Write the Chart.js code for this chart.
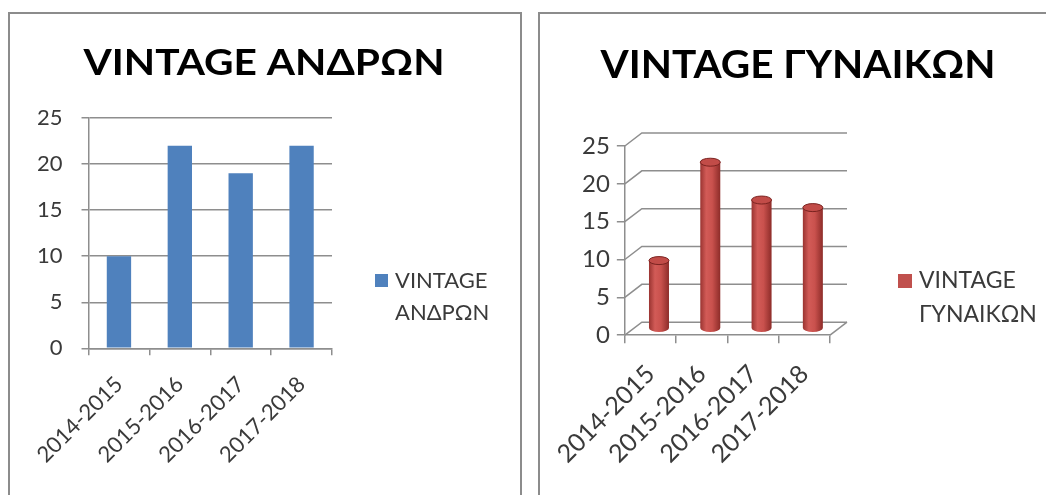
<!DOCTYPE html>
<html lang="el">
<head>
<meta charset="UTF-8">
<title>VINTAGE</title>
<script src="https://cdn.jsdelivr.net/npm/chart.js"></script>
<style>
  body { margin: 0; background: #fff; width: 1046px; height: 495px; overflow: hidden; position: relative; }
  .panel { position: absolute; top: 12px; height: 500px; border: 2px solid #8c8c8c; border-bottom: none; background: #fff; }
  #leftPanel { left: 8px; width: 510px; }
  #rightPanel { left: 538px; width: 520px; }
  .box { position: relative; height: 481px; }
</style>
</head>
<body>

<div class="panel" id="leftPanel"><div class="box" style="width:510px"><canvas id="men"></canvas></div></div>
<div class="panel" id="rightPanel"><div class="box" style="width:506px"><canvas id="women"></canvas></div></div>

<script>
  const seasons = ['2014-2015', '2015-2016', '2016-2017', '2017-2018'];
  const menValues = [10, 22, 19, 22];
  const womenValues = [9, 22, 17, 16];
  const yMax = 25;
  const yStep = 5;

  const gridGray = '#8e8e8e';
  const textGray = '#3a3a3a';
  const depth = { dx: 17, dy: 13 };

  // title centred on the whole panel (layout padding would shift the built-in one)
  const panelTitle = {
    id: 'panelTitle',
    afterDraw(chart, args, opts) {
      const ctx = chart.ctx;
      ctx.save();
      ctx.font = opts.font;
      ctx.fillStyle = '#000';
      ctx.textAlign = 'center';
      ctx.textBaseline = 'alphabetic';
      ctx.translate(chart.width / 2 + opts.shift, opts.baseline);
      ctx.scale(opts.stretch, 1);
      ctx.fillText(opts.text, 0, 0);
      ctx.restore();
    }
  };

  // legend on the right side, label split over two lines
  const sideLegend = {
    id: 'sideLegend',
    afterDraw(chart, args, opts) {
      const ctx = chart.ctx;
      const ds = chart.data.datasets[0];
      const x = chart.chartArea.right + opts.offsetX;
      const y = opts.y;
      ctx.save();
      ctx.fillStyle = opts.color;
      ctx.fillRect(x, y, opts.box, opts.box);
      ctx.font = opts.font;
      ctx.fillStyle = textGray;
      ctx.textBaseline = 'middle';
      ds.label.split(' ').forEach((t, i) => {
        ctx.fillText(t, x + opts.box + 7, y + opts.box / 2 + i * opts.lineGap);
      });
      ctx.restore();
    }
  };

  // 3d wall, floor and cylinders for the women chart
  const cylinders = {
    id: 'cylinders',
    beforeDatasetsDraw(chart) {
      const { ctx, chartArea: { left, right }, scales: { y } } = chart;
      const { dx, dy } = depth;
      ctx.save();
      ctx.strokeStyle = gridGray;
      ctx.lineWidth = 1.5;
      y.ticks.forEach(t => {
        const py = y.getPixelForValue(t.value);
        ctx.beginPath();
        ctx.moveTo(left, py);
        ctx.lineTo(left + dx, py - dy);
        ctx.lineTo(right + dx, py - dy);
        ctx.stroke();
      });
      const p0 = y.getPixelForValue(0);
      ctx.beginPath();
      ctx.moveTo(right + dx, p0 - dy);
      ctx.lineTo(right, p0);
      ctx.stroke();
      ctx.restore();
    },
    afterDatasetsDraw(chart) {
      const ctx = chart.ctx;
      const { dx, dy } = depth;
      ctx.save();
      chart.getDatasetMeta(0).data.forEach(bar => {
        const rx = bar.width / 2, ry = 4;
        const cx = bar.x + dx / 2, top = bar.y - dy / 2, bot = bar.base - dy / 2;
        const g = ctx.createLinearGradient(cx - rx, 0, cx + rx, 0);
        g.addColorStop(0, '#9a3431');
        g.addColorStop(0.3, '#d25b57');
        g.addColorStop(0.6, '#c9514d');
        g.addColorStop(1, '#8d2c29');
        ctx.fillStyle = g;
        ctx.beginPath();
        ctx.moveTo(cx - rx, top);
        ctx.lineTo(cx - rx, bot);
        ctx.ellipse(cx, bot, rx, ry, 0, Math.PI, 0, true);
        ctx.lineTo(cx + rx, top);
        ctx.closePath();
        ctx.fill();
        ctx.beginPath();
        ctx.ellipse(cx, top, rx, ry, 0, 0, Math.PI * 2);
        ctx.fillStyle = '#c24c48';
        ctx.fill();
        ctx.strokeStyle = '#7a2320';
        ctx.lineWidth = 1;
        ctx.stroke();
      });
      ctx.restore();
    }
  };

  function axisOptions(yFont, xFont, yPad, yTickLen, xPad, xTickLen) {
    return {
      x: {
        grid: { display: true, drawOnChartArea: false, tickLength: xTickLen, color: gridGray, lineWidth: 1.5 },
        border: { display: true, color: gridGray, width: 1.5 },
        ticks: { color: textGray, font: { family: 'Lato', size: xFont }, maxRotation: 45, minRotation: 45, padding: xPad },
        // rotated labels should not push the plot to the right
        afterFit(s) { s.paddingLeft = 0; s.paddingRight = 0; }
      },
      y: {
        min: 0, max: yMax,
        grid: { color: gridGray, lineWidth: 1.5, tickLength: yTickLen },
        border: { display: true, color: gridGray, width: 1.5 },
        ticks: { stepSize: yStep, color: textGray, font: { family: 'Lato', size: yFont }, padding: yPad }
      }
    };
  }

  // men: flat blue bars
  new Chart(document.getElementById('men'), {
    type: 'bar',
    data: {
      labels: seasons,
      datasets: [{
        label: 'VINTAGE ΑΝΔΡΩΝ',
        data: menValues,
        backgroundColor: '#4f81bd',
        barPercentage: 0.4,
        categoryPercentage: 1
      }]
    },
    options: {
      responsive: true,
      maintainAspectRatio: false,
      animation: false,
      layout: { padding: { left: 8, right: 188, top: 104, bottom: 11 } },
      scales: axisOptions(22, 22, 19, 7, 16, 7),
      plugins: {
        legend: { display: false },
        tooltip: { enabled: false },
        title: { display: false },
        panelTitle: { text: 'VINTAGE ΑΝΔΡΩΝ', font: 'bold 36px Lato', baseline: 61, shift: -1, stretch: 1.13 },
        sideLegend: { offsetX: 43, y: 260, box: 13, lineGap: 32, color: '#4f81bd', font: '22px Lato' }
      }
    },
    plugins: [panelTitle, sideLegend]
  });

  // women: 3d cylinders
  const womenScales = axisOptions(24, 25, 7, 8, 16, 8);
  womenScales.y.grid.drawOnChartArea = false;
  new Chart(document.getElementById('women'), {
    type: 'bar',
    data: {
      labels: seasons,
      datasets: [{
        label: 'VINTAGE ΓΥΝΑΙΚΩΝ',
        data: womenValues,
        backgroundColor: 'rgba(0,0,0,0)',
        barPercentage: 0.39,
        categoryPercentage: 1
      }]
    },
    options: {
      responsive: true,
      maintainAspectRatio: false,
      animation: false,
      layout: { padding: { left: 35, right: 216, top: 132, bottom: 10 } },
      scales: womenScales,
      plugins: {
        legend: { display: false },
        tooltip: { enabled: false },
        title: { display: false },
        panelTitle: { text: 'VINTAGE ΓΥΝΑΙΚΩΝ', font: 'bold 39px Lato', baseline: 64, shift: 5, stretch: 1.04 },
        sideLegend: { offsetX: 68, y: 260, box: 14, lineGap: 34, color: '#c0504d', font: '23px Lato' }
      }
    },
    plugins: [cylinders, panelTitle, sideLegend]
  });
</script>
</body>
</html>
